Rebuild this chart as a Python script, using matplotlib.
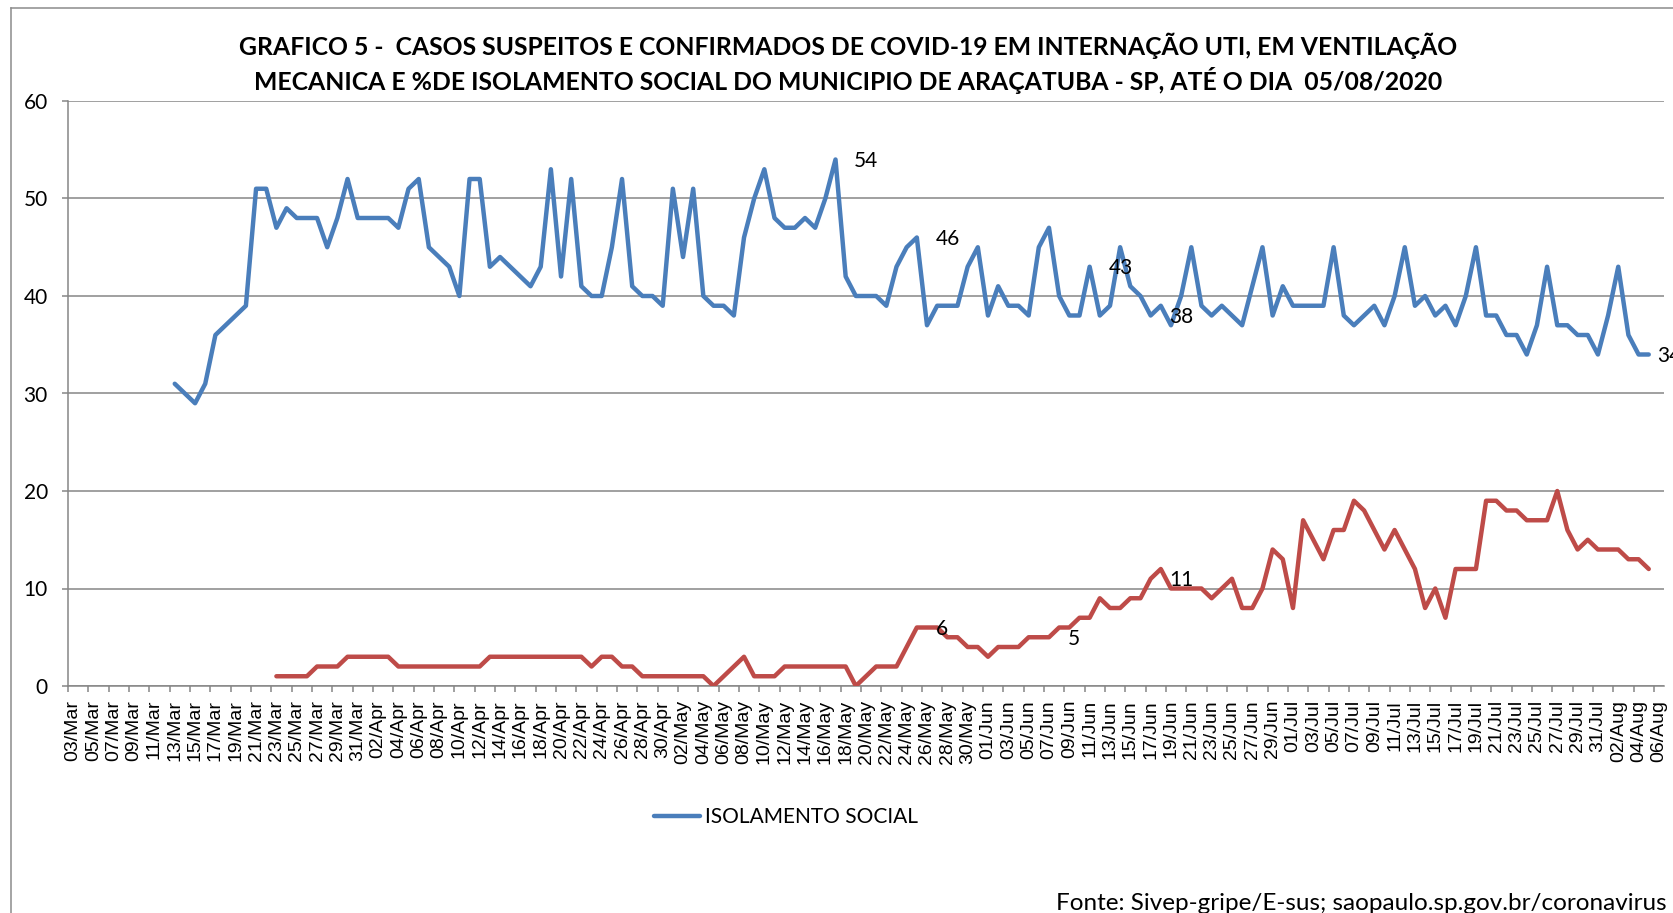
import pandas as pd
import matplotlib
matplotlib.use("Agg")
import matplotlib.pyplot as plt
from matplotlib.lines import Line2D

plt.rcParams['font.family'] = ['Lato', 'DejaVu Sans']

# eixo de categorias: um dia por categoria
datas = pd.date_range("2020-03-03", "2020-08-06", freq="D")
rotulos_x = [d.strftime("%d/%b") for d in datas]

# % de isolamento social (a partir de 13/03)
inicio_isolamento = "2020-03-13"
isolamento = [
    31, 30, 29, 31, 36, 37, 38, 39, 51, 51,
    47, 49, 48, 48, 48, 45, 48, 52, 48, 48,
    48, 48, 47, 51, 52, 45, 44, 43, 40, 52,
    52, 43, 44, 43, 42, 41, 43, 53, 42, 52,
    41, 40, 40, 45, 52, 41, 40, 40, 39, 51,
    44, 51, 40, 39, 39, 38, 46, 50, 53, 48,
    47, 47, 48, 47, 50, 54, 42, 40, 40, 40,
    39, 43, 45, 46, 37, 39, 39, 39, 43, 45,
    38, 41, 39, 39, 38, 45, 47, 40, 38, 38,
    43, 38, 39, 45, 41, 40, 38, 39, 37, 40,
    45, 39, 38, 39, 38, 37, 41, 45, 38, 41,
    39, 39, 39, 39, 45, 38, 37, 38, 39, 37,
    40, 45, 39, 40, 38, 39, 37, 40, 45, 38,
    38, 36, 36, 34, 37, 43, 37, 37, 36, 36,
    34, 38, 43, 36, 34, 34,
]

# casos em UTI / ventilacao mecanica (a partir de 23/03)
inicio_uti = "2020-03-23"
uti = [
    1, 1, 1, 1, 2, 2, 2, 3, 3, 3,
    3, 3, 2, 2, 2, 2, 2, 2, 2, 2,
    2, 3, 3, 3, 3, 3, 3, 3, 3, 3,
    3, 2, 3, 3, 2, 2, 1, 1, 1, 1,
    1, 1, 1, 0, 1, 2, 3, 1, 1, 1,
    2, 2, 2, 2, 2, 2, 2, 0, 1, 2,
    2, 2, 4, 6, 6, 6, 5, 5, 4, 4,
    3, 4, 4, 4, 5, 5, 5, 6, 6, 7,
    7, 9, 8, 8, 9, 9, 11, 12, 10, 10,
    10, 10, 9, 10, 11, 8, 8, 10, 14, 13,
    8, 17, 15, 13, 16, 16, 19, 18, 16, 14,
    16, 14, 12, 8, 10, 7, 12, 12, 12, 19,
    19, 18, 18, 17, 17, 17, 20, 16, 14, 15,
    14, 14, 14, 13, 13, 12,
]

# rotulos de dados mostrados no grafico (datas dos pontos)
rotulos_isolamento = ["2020-05-17", "2020-05-25", "2020-06-11", "2020-06-17", "2020-08-05"]
rotulos_uti = ["2020-05-25", "2020-06-07", "2020-06-17"]

azul = "#4A7EBB"
vermelho = "#BE4B48"
cinza = "#868686"

x_iso = list(range(datas.get_loc(pd.Timestamp(inicio_isolamento)),
                   datas.get_loc(pd.Timestamp(inicio_isolamento)) + len(isolamento)))
x_uti = list(range(datas.get_loc(pd.Timestamp(inicio_uti)),
                   datas.get_loc(pd.Timestamp(inicio_uti)) + len(uti)))

fig = plt.figure(figsize=(16.73, 9.13), dpi=100)
ax = fig.add_axes([68 / 1673, 1 - 686 / 913, (1664 - 68) / 1673, (686 - 101) / 913])

linha_iso, = ax.plot(x_iso, isolamento, color=azul, lw=3.2,
                     solid_joinstyle="round", solid_capstyle="round", zorder=3)
ax.plot(x_uti, uti, color=vermelho, lw=3.2,
        solid_joinstyle="round", solid_capstyle="round", zorder=3)


def rotular(xs, ys, datas_rot):
    for d in datas_rot:
        i = datas.get_loc(pd.Timestamp(d))
        v = ys[xs.index(i)]
        # o ultimo rotulo fica encostado na borda do grafico
        dx = 6 if i == xs[-1] else 13.5
        ax.annotate(str(v), (i, v), xytext=(dx, -1), textcoords="offset points",
                    ha="left", va="center", fontsize=15, color="black", zorder=4)


rotular(x_iso, isolamento, rotulos_isolamento)
rotular(x_uti, uti, rotulos_uti)

ax.set_xlim(-0.5, len(datas) - 0.5)
ax.set_ylim(0, 60)
ax.set_yticks(range(0, 61, 10))
ax.grid(axis="y", color=cinza, lw=1.1)
ax.set_axisbelow(True)

ax.set_xticks(range(0, len(datas), 2))
ax.set_xticklabels(rotulos_x[::2], rotation=90, fontsize=14,
                   family=["Liberation Sans", "DejaVu Sans"])
ax.set_xticks([k - 0.5 for k in range(0, len(datas), 2)], minor=True)
ax.tick_params(axis="x", which="major", length=0, pad=10)
ax.tick_params(axis="x", which="minor", length=4.5, width=1.1, color=cinza)
ax.tick_params(axis="y", length=4.5, width=1.1, color=cinza, pad=10, labelsize=15)

for lado in ["top", "right"]:
    ax.spines[lado].set_visible(False)
for lado in ["left", "bottom"]:
    ax.spines[lado].set_color(cinza)
    ax.spines[lado].set_linewidth(1.1)

fig.text(0.507, 1 - 46 / 913,
         "GRAFICO 5 -  CASOS SUSPEITOS E CONFIRMADOS DE COVID-19 EM INTERNAÇÃO UTI, EM VENTILAÇÃO",
         ha="center", va="center", fontsize=17.8, fontweight="bold")
fig.text(0.507, 1 - 80 / 913,
         "MECANICA E %DE ISOLAMENTO SOCIAL DO MUNICIPIO DE ARAÇATUBA - SP, ATÉ O DIA  05/08/2020",
         ha="center", va="center", fontsize=17.8, fontweight="bold")

ax.legend(handles=[linha_iso], labels=["ISOLAMENTO SOCIAL"], loc="center",
          bbox_to_anchor=(786 / 1673, 1 - 817 / 913), bbox_transform=fig.transFigure,
          frameon=False, fontsize=15, handlelength=2.2, handletextpad=0.25)

fig.text(1056 / 1673, 1 - 903 / 913,
         "Fonte: Sivep-gripe/E-sus; saopaulo.sp.gov.br/coronavirus",
         ha="left", va="center", fontsize=17.5)

# moldura do grafico
fig.add_artist(Line2D([11 / 1673, 1.0], [1 - 8 / 913, 1 - 8 / 913],
                      transform=fig.transFigure, color="#8C8C8C", lw=1.1))
fig.add_artist(Line2D([11 / 1673, 11 / 1673], [0.0, 1 - 8 / 913],
                      transform=fig.transFigure, color="#8C8C8C", lw=1.1))

fig.savefig("out.png", dpi=100)
